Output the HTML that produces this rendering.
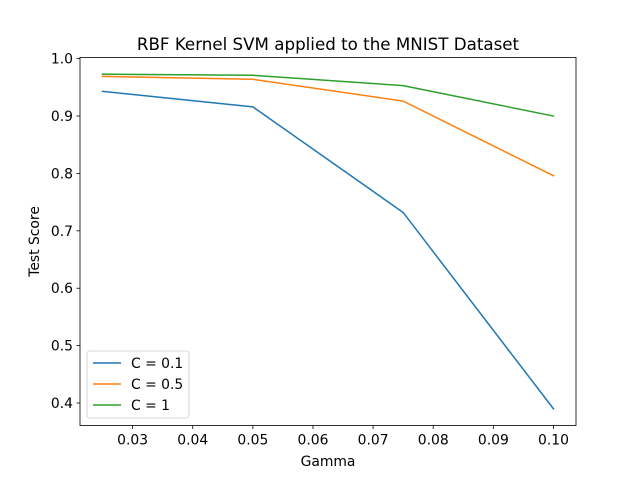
<!DOCTYPE html>
<html><head><meta charset="utf-8"><style>
html,body{margin:0;padding:0;background:#fff;}
svg{display:block;font-family:"DejaVu Sans","Liberation Sans",sans-serif;}
</style></head><body>
<svg id="chart" width="640" height="478" viewBox="0 0 640 478"></svg>
<script>
const gammas = [0.025, 0.05, 0.075, 0.1];
const seriesC01 = [0.943, 0.916, 0.732, 0.390];
const seriesC05 = [0.969, 0.964, 0.926, 0.796];
const seriesC1 = [0.973, 0.971, 0.953, 0.900];
const seriesLabels = ["C = 0.1", "C = 0.5", "C = 1"];
const xTicks = [0.03, 0.04, 0.05, 0.06, 0.07, 0.08, 0.09, 0.10];
const xTickLabels = ["0.03","0.04","0.05","0.06","0.07","0.08","0.09","0.10"];
const yTicks = [0.4,0.5,0.6,0.7,0.8,0.9,1.0];
const yTickLabels = ["0.4","0.5","0.6","0.7","0.8","0.9","1.0"];

const colors = ["#1f77b4","#ff7f0e","#2ca02c"];
const L=80, R=576, T=57.4, B=425.5;
const allY = seriesC01.concat(seriesC05, seriesC1);
const xmin0=Math.min(...gammas), xmax0=Math.max(...gammas);
const ymin0=Math.min(...allY), ymax0=Math.max(...allY);
const xm=(xmax0-xmin0)*0.05, ym=(ymax0-ymin0)*0.05;
const xmin=xmin0-xm, xmax=xmax0+xm, ymin=ymin0-ym, ymax=ymax0+ym;
const sx=v=>L+(v-xmin)/(xmax-xmin)*(R-L);
const sy=v=>B-(v-ymin)/(ymax-ymin)*(B-T);
const svg=document.getElementById('chart');
const NS="http://www.w3.org/2000/svg";
function mk(tag,attrs,parent){const e=document.createElementNS(NS,tag);for(const k in attrs)e.setAttribute(k,attrs[k]);(parent||svg).appendChild(e);return e;}

const title=mk('text',{x:(L+R)/2,y:50,'text-anchor':'middle','font-size':'16.7',fill:'#000'});


title.textContent='RBF Kernel SVM applied to the MNIST Dataset';

[[seriesC01,0],[seriesC05,1],[seriesC1,2]].forEach(([s,i])=>{
  const p=mk('polyline',{points:s.map((v,j)=>sx(gammas[j])+','+sy(v)).join(' '),fill:'none',stroke:colors[i],'stroke-width':1.5,'stroke-linejoin':'round','stroke-linecap':'square'});
  
  
});

const frame=mk('rect',{x:L,y:T,width:R-L,height:B-T,fill:'none',stroke:'#000','stroke-width':0.8});



xTicks.forEach((t,i)=>{
  const x=sx(t);
  mk('line',{x1:x,x2:x,y1:B,y2:B+3.5,stroke:'#000','stroke-width':0.8});
  const tx=mk('text',{x:x,y:B+19,'text-anchor':'middle','font-size':'13.9',fill:'#000'});
  
  
  tx.textContent=xTickLabels[i];
});
yTicks.forEach((t,i)=>{
  const y=sy(t);
  mk('line',{x1:L-3.5,x2:L,y1:y,y2:y,stroke:'#000','stroke-width':0.8});
  const tx=mk('text',{x:L-7,y:y+5,'text-anchor':'end','font-size':'13.9',fill:'#000'});
  
  
  tx.textContent=yTickLabels[i];
});
const xl=mk('text',{x:(L+R)/2,y:466,'text-anchor':'middle','font-size':'13.9',fill:'#000'});


xl.textContent='Gamma';
const yl=mk('text',{x:0,y:0,'text-anchor':'middle','font-size':'13.9',fill:'#000',transform:'translate(39,'+((T+B)/2)+') rotate(-90)'});


yl.textContent='Test Score';

const lg=mk('g',{});


mk('rect',{x:87,y:351,width:102,height:67,rx:2.5,fill:'#fff','fill-opacity':0.8,stroke:'#ccc','stroke-width':0.8},lg);
seriesLabels.forEach((lab,i)=>{
  const y=363+i*21;
  mk('line',{x1:93,x2:121,y1:y,y2:y,stroke:colors[i],'stroke-width':1.5},lg);
  const t=mk('text',{x:131,y:y+5,'font-size':'13.9',fill:'#000'},lg);
  
  
  t.textContent=lab;
});
</script>
</body></html>
